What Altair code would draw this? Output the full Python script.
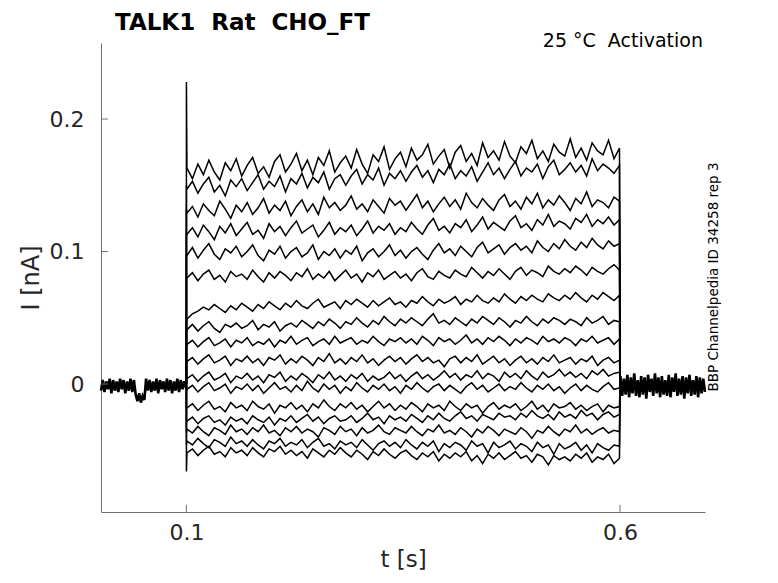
import altair as alt
import numpy as np
import pandas as pd

FONT = "DejaVu Sans"
TITLE = "TALK1\u00a0\u00a0Rat\u00a0\u00a0CHO_FT"
CONDITION = "25 °C\u00a0\u00a0Activation"
SOURCE = "BBP Channelpedia ID 34258 rep 3"

X_TICKS = [0.1, 0.6]
Y_TICKS = [0, 0.1, 0.2]
X_DOMAIN = [0.0015, 0.698]
Y_DOMAIN = [-0.0966, 0.2574]
STEP_ON = 0.1
STEP_OFF = 0.6

# current values in pA (80 samples between 0.1 s and 0.6 s)
T1 = [163, 155, 166, 158, 169, 160, 154, 167, 161, 170, 157, 165, 171, 159, 164, 156, 168, 173, 160, 166,
      174, 161, 169, 158, 171, 165, 176, 160, 167, 172, 163, 177, 166, 159, 173, 168, 179, 162, 170, 175,
      164, 178, 169, 173, 181, 166, 172, 177, 163, 175, 180, 168, 174, 165, 182, 171, 176, 169, 183, 172,
      167, 179, 174, 184, 170, 176, 168, 181, 175, 172, 185, 171, 178, 169, 182, 176, 173, 184, 170, 178]
T2 = [147, 153, 144, 151, 156, 145, 150, 142, 154, 149, 155, 146, 152, 158, 147, 153, 149, 157, 145, 155,
      151, 159, 148, 156, 152, 160, 147, 155, 158, 150, 157, 162, 151, 158, 154, 163, 150, 159, 155, 161,
      153, 160, 165, 156, 161, 152, 162, 158, 166, 155, 161, 157, 164, 153, 160, 167, 158, 163, 155, 162,
      168, 157, 163, 160, 166, 155, 164, 169, 158, 162, 167, 160, 165, 157, 170, 161, 166, 163, 159, 165]
T3 = [129, 134, 126, 136, 131, 127, 138, 132, 125, 135, 130, 137, 128, 133, 140, 129, 135, 131, 138, 127,
      134, 139, 130, 136, 128, 141, 133, 137, 131, 135, 142, 132, 136, 130, 139, 134, 129, 140, 135, 138,
      131, 137, 143, 133, 138, 130, 136, 141, 134, 139, 132, 144, 137, 133, 140, 135, 131, 139, 143, 134,
      138, 132, 141, 136, 144, 133, 139, 135, 142, 137, 131, 140, 136, 145, 134, 139, 137, 133, 141, 138]
T4 = [113, 118, 111, 120, 115, 109, 119, 114, 121, 112, 117, 122, 113, 116, 110, 121, 115, 119, 112, 118,
      123, 114, 117, 120, 111, 116, 122, 113, 118, 115, 120, 112, 117, 123, 114, 119, 116, 121, 113, 118,
      115, 122, 117, 113, 120, 125, 116, 119, 114, 121, 118, 124, 115, 120, 126, 117, 122, 119, 116, 123,
      127, 118, 121, 116, 124, 120, 128, 119, 123, 121, 117, 125, 122, 128, 119, 124, 121, 126, 120, 124]
T5 = [97, 103, 95, 101, 106, 98, 94, 102, 99, 104, 96, 100, 105, 97, 93, 101, 98, 104, 95, 100,
      103, 96, 99, 105, 94, 100, 97, 102, 95, 101, 98, 104, 93, 99, 102, 96, 100, 105, 97, 101,
      95, 100, 103, 98, 94, 101, 106, 99, 102, 97, 104, 100, 96, 103, 107, 99, 102, 105, 98, 103,
      106, 101, 104, 99, 108, 103, 100, 106, 102, 109, 104, 101, 107, 103, 110, 105, 102, 108, 104, 106]
T6 = [80, 84, 78, 83, 86, 79, 82, 77, 85, 81, 83, 79, 86, 81, 77, 84, 80, 85, 82, 78,
      84, 81, 87, 79, 83, 80, 85, 78, 82, 86, 80, 83, 77, 84, 81, 86, 79, 82, 85, 80,
      83, 78, 84, 87, 81, 79, 85, 82, 80, 86, 83, 81, 88, 84, 80, 85, 82, 87, 83, 79,
      85, 88, 82, 86, 84, 81, 89, 85, 83, 87, 84, 89, 86, 82, 88, 85, 83, 87, 90, 86]
T7 = [49, 53, 55, 58, 56, 60, 57, 54, 59, 56, 61, 58, 55, 60, 57, 62, 59, 56, 61, 58,
      63, 59, 57, 61, 64, 58, 60, 62, 57, 63, 60, 64, 61, 58, 63, 59, 62, 65, 60, 62,
      58, 63, 61, 66, 62, 59, 64, 61, 63, 66, 60, 64, 62, 67, 63, 61, 65, 62, 68, 64,
      61, 66, 63, 67, 64, 62, 68, 65, 63, 67, 64, 69, 65, 62, 67, 64, 69, 66, 63, 67]
T8 = [41, 45, 40, 44, 47, 42, 39, 45, 43, 46, 42, 44, 48, 41, 45, 43, 47, 40, 44, 46,
      43, 48, 45, 42, 47, 44, 49, 46, 42, 47, 45, 50, 46, 43, 48, 45, 51, 47, 44, 49,
      46, 50, 47, 44, 49, 53, 46, 48, 45, 50, 47, 44, 49, 46, 51, 48, 45, 50, 47, 43,
      48, 46, 51, 47, 44, 49, 46, 50, 48, 45, 49, 47, 44, 50, 46, 48, 51, 45, 48, 47]
T9 = [30, 33, 28, 32, 35, 29, 31, 34, 28, 33, 31, 35, 29, 32, 30, 34, 28, 33, 31, 36,
      30, 33, 35, 29, 32, 34, 30, 36, 31, 33, 35, 30, 33, 31, 36, 32, 29, 34, 32, 35,
      31, 34, 30, 36, 33, 29, 35, 32, 34, 30, 33, 37, 31, 34, 30, 35, 32, 36, 33, 29,
      34, 31, 35, 33, 30, 36, 32, 34, 31, 35, 33, 29, 34, 32, 36, 31, 33, 35, 30, 34]
T10 = [17, 20, 15, 19, 22, 16, 18, 21, 14, 19, 17, 21, 16, 19, 14, 20, 18, 22, 15, 19,
       16, 21, 18, 14, 20, 17, 23, 16, 19, 15, 20, 17, 22, 16, 19, 14, 18, 21, 17, 20,
       15, 19, 22, 17, 20, 16, 18, 13, 19, 21, 16, 20, 17, 22, 15, 18, 21, 16, 19, 14,
       18, 21, 16, 19, 15, 20, 17, 22, 16, 18, 20, 15, 19, 17, 21, 14, 18, 20, 16, 18]
T11 = [4, 7, 2, 6, 9, 3, 5, 8, 1, 6, 4, 8, 3, 6, 1, 7, 5, 9, 2, 6,
       3, 8, 5, 1, 7, 4, 9, 3, 6, 2, 7, 4, 8, 2, 6, 3, 5, 9, 4, 7,
       2, 6, 9, 4, 7, 3, 6, 10, 5, 8, 3, 7, 5, 10, 4, 8, 6, 2, 9, 5,
       8, 4, 10, 6, 3, 9, 5, 7, 11, 6, 9, 5, 8, 4, 10, 7, 11, 6, 8, 9]
T12 = [-4, -1, -6, -2, 1, -5, -3, 0, -7, -2, -4, 0, -5, -1, -7, -3, 1, -4, -2, -6,
       -1, -5, 2, -3, -6, 0, -4, -1, -7, -2, -5, 1, -3, -6, -1, -4, 0, -5, -2, -7,
       -1, -4, 1, -3, -6, -2, 0, -5, -1, -4, -7, -2, 1, -4, -1, -6, -3, 0, -5, -2,
       -4, 1, -3, -6, -1, -4, 0, -5, -2, -7, -3, 0, -5, -1, -4, -6, -2, 1, -4, -3]
T13 = [-18, -15, -20, -16, -13, -19, -17, -21, -14, -18, -16, -20, -13, -17, -19, -15, -22, -16, -18, -14,
       -19, -16, -21, -15, -18, -12, -17, -20, -15, -18, -14, -19, -16, -21, -17, -13, -18, -15, -20, -16,
       -19, -14, -17, -21, -15, -18, -16, -20, -13, -17, -20, -15, -18, -16, -22, -17, -14, -19, -16, -18,
       -15, -20, -17, -13, -19, -16, -21, -15, -18, -17, -14, -19, -16, -20, -17, -15, -21, -16, -18, -17]
T14 = [-28, -25, -30, -26, -24, -29, -27, -31, -25, -28, -26, -30, -24, -27, -29, -25, -31, -26, -28, -24,
       -29, -26, -23, -28, -25, -30, -26, -24, -28, -27, -24, -29, -26, -22, -27, -25, -30, -24, -27, -25,
       -28, -23, -26, -29, -24, -27, -22, -26, -28, -24, -21, -26, -24, -28, -23, -25, -27, -22, -25, -24,
       -27, -22, -25, -20, -24, -26, -23, -27, -21, -25, -23, -26, -20, -24, -22, -27, -23, -21, -25, -23]
T15 = [-34, -37, -32, -36, -39, -33, -35, -38, -31, -36, -34, -38, -33, -36, -31, -37, -35, -39, -33, -36,
       -32, -37, -34, -36, -40, -33, -35, -38, -32, -36, -34, -39, -33, -37, -35, -31, -36, -38, -33, -35,
       -37, -32, -36, -39, -34, -36, -31, -37, -35, -38, -33, -36, -40, -34, -37, -32, -35, -39, -34, -36,
       -38, -33, -36, -41, -35, -37, -32, -36, -39, -34, -36, -31, -37, -34, -38, -35, -33, -37, -35, -36]
T16 = [-43, -46, -41, -45, -48, -42, -44, -47, -40, -45, -43, -47, -42, -46, -49, -43, -45, -41, -47, -44,
       -46, -42, -48, -44, -41, -47, -45, -49, -43, -46, -44, -48, -42, -46, -50, -45, -43, -47, -44, -48,
       -42, -46, -49, -44, -47, -43, -51, -45, -48, -44, -46, -50, -43, -47, -45, -52, -44, -48, -46, -43,
       -49, -45, -47, -51, -44, -48, -46, -53, -45, -49, -47, -44, -50, -46, -52, -45, -48, -50, -46, -47]
T17 = [-52, -49, -54, -50, -47, -53, -51, -55, -48, -52, -50, -54, -48, -52, -55, -49, -51, -47, -53, -50,
       -54, -51, -56, -49, -52, -55, -50, -53, -48, -52, -55, -50, -53, -57, -51, -54, -49, -53, -56, -52,
       -50, -54, -57, -52, -55, -51, -58, -53, -56, -52, -55, -51, -58, -54, -60, -53, -56, -52, -57, -54,
       -51, -56, -54, -59, -53, -55, -61, -54, -57, -55, -58, -53, -56, -52, -59, -55, -57, -53, -60, -56]
TRACES_PA = [T1, T2, T3, T4, T5, T6, T7, T8, T9, T10, T11, T12, T13, T14, T15, T16, T17]
# capacitive transient at the voltage step (pA)
ONSET_PA = [228, 150, 132, 114, 98, 80, 45, 40, 28, 15, 3, -5, -19, -29, -37, -46, -66]

# holding current before and after the step (pA)
PRE_PA = [-5, 3, -6, 2, -4, 4, -7, 3, -5, 2, -6, 4, -4, 3, -7, 2, -5, 4, -6, 3,
          -8, -13, -7, -14, -9, -12, 4, -5, 3, -6, 2, -5, 4, -7, 3, -4, 2, -6, 4, -5,
          3, -7, 2, -5, 4, -6, 3, -4, 2, -3]
POST_PA = [6, -9, 4, -8, 7, -10, 5, -7, 8, -9, 3, -10, 6, -8, 5, -11, 7, -6, 4, -9,
           8, -7, 5, -10, 6, -8, 3, -9, 7, -10, 5, -6, 8, -9, 4, -8, 6, -11, 5, -7,
           7, -9, 3, -8, 6, -10, 5, -7, 4, -6]

t_step = np.linspace(0.1006, 0.5994, len(T1))
t_pre = np.linspace(0.0015, 0.0995, len(PRE_PA))
t_post = np.linspace(0.6005, 0.698, len(POST_PA))

rows = []
for k, vals in enumerate(TRACES_PA):
    seq = [(STEP_ON, 0.0), (STEP_ON, ONSET_PA[k] / 1000)]
    seq += [(float(t), v / 1000) for t, v in zip(t_step, vals)]
    seq += [(STEP_OFF, 0.0)]
    for j, (t, v) in enumerate(seq):
        rows.append({"sweep": f"s{k}", "t": t, "I": v, "o": j})
df = pd.DataFrame(rows)

base_rows = []
for name, ts, vals in [("pre", t_pre, PRE_PA), ("post", t_post, POST_PA)]:
    for j, (t, v) in enumerate(zip(ts, vals)):
        base_rows.append({"sweep": name, "t": float(t), "I": v / 1000, "o": j})
df_base = pd.DataFrame(base_rows)

AX = "#707070"
TXT = "#262626"
W, H = 604, 469

xscale = alt.Scale(domain=X_DOMAIN, nice=False, zero=False)
yscale = alt.Scale(domain=Y_DOMAIN, nice=False, zero=False)

xaxis = alt.Axis(values=X_TICKS, format="~g", title="t [s]", labelPadding=10, titlePadding=5,
                 titleFontSize=23)
yaxis = alt.Axis(values=Y_TICKS, format="~g", title="I [nA]", labelPadding=17, titlePadding=6)

X = alt.X("t:Q", scale=xscale, axis=xaxis)
Y = alt.Y("I:Q", scale=yscale, axis=yaxis)

traces = alt.Chart(df).mark_line(color="black", strokeWidth=1.5).encode(
    x=X, y=Y, detail="sweep:N", order="o:Q",
)

baseline = alt.Chart(df_base).mark_line(color="black", strokeWidth=2.6).encode(
    x=X, y=Y, detail="sweep:N", order="o:Q",
)

xticks = alt.Chart(pd.DataFrame({"t": X_TICKS})).mark_rule(color=AX, strokeWidth=1).encode(
    x=X,
    y=alt.value(H),
    y2=alt.value(H - 7),
)
yticks = alt.Chart(pd.DataFrame({"I": Y_TICKS})).mark_rule(color=AX, strokeWidth=1).encode(
    y=Y,
    x=alt.value(0),
    x2=alt.value(7),
)

one = alt.Data(values=[{"a": 1}])
title_txt = alt.Chart(one).mark_text(
    text=TITLE, font=FONT, fontSize=23, fontWeight="bold", color="black",
    align="left", baseline="alphabetic",
).encode(x=alt.value(14), y=alt.value(-13.5))
cond_txt = alt.Chart(one).mark_text(
    text=CONDITION, font=FONT, fontSize=19, color="black",
    align="right", baseline="alphabetic",
).encode(x=alt.value(602), y=alt.value(4))
src_txt = alt.Chart(one).mark_text(
    text=SOURCE, font=FONT, fontSize=13.5, color="black", angle=270,
    align="center", baseline="alphabetic",
).encode(x=alt.value(617), y=alt.value(234))

chart = alt.layer(traces, baseline, xticks, yticks, title_txt, cond_txt, src_txt).properties(
    width=W,
    height=H,
    autosize="none",
    padding={"left": 93, "top": 35, "right": 55, "bottom": 62},
).configure_view(stroke=None).configure_axis(
    domainColor=AX,
    domainWidth=1,
    tickSize=0,
    grid=False,
    labelFont=FONT,
    labelFontSize=22,
    labelColor=TXT,
    titleFont=FONT,
    titleFontSize=24,
    titleFontWeight="normal",
    titleColor=TXT,
)

chart.save("out.html", embed_options={"renderer": "svg", "actions": False})
